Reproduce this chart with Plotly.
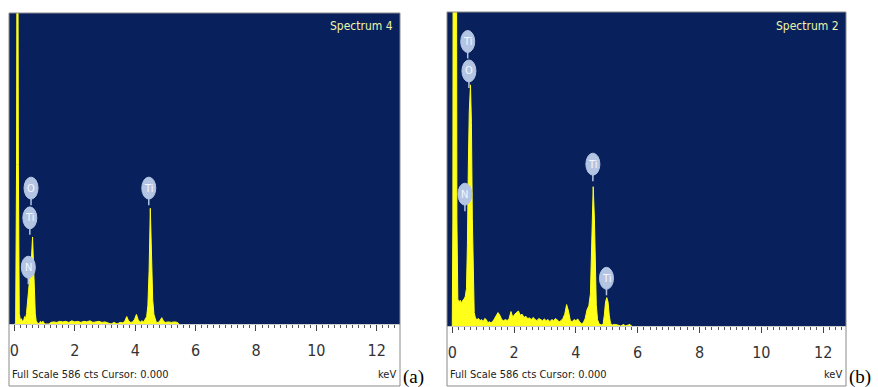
import plotly.graph_objects as go

# ---------------- data ----------------
energy_a = [0.00, 0.04, 0.07, 0.10, 0.13, 0.16, 0.20, 0.23, 0.27, 0.31, 0.34, 0.37, 0.40, 0.44,
            0.48, 0.52, 0.56, 0.60, 0.63, 0.66, 0.69, 0.72, 0.76, 0.82, 0.86, 0.90, 0.95, 1.00,
            1.15, 1.20, 1.30, 1.40, 1.50, 1.60, 1.70, 1.80, 1.90, 2.00, 2.10, 2.20, 2.30, 2.40,
            2.50, 2.60, 2.70, 2.80, 2.90, 3.00, 3.10, 3.20, 3.30, 3.40, 3.50, 3.60, 3.66, 3.72,
            3.78, 3.85, 3.92, 3.98, 4.04, 4.10, 4.16, 4.22, 4.28, 4.33, 4.38, 4.42, 4.46, 4.50,
            4.54, 4.58, 4.62, 4.66, 4.70, 4.76, 4.82, 4.88, 4.94, 5.00, 5.10, 5.20, 5.30, 5.40,
            5.45]
counts_a = [0, 0, 300, 1200, 300, 20, 6, 10, 4, 8, 14, 10, 20, 45,
            60, 80, 120, 164, 110, 50, 20, 6, 2, 0, 5, 3, 5, 0,
            0, 3, 4, 3, 5, 4, 5, 3, 6, 4, 5, 3, 5, 4,
            6, 3, 4, 5, 3, 4, 2, 0, 3, 0, 3, 2, 6, 14,
            6, 3, 4, 9, 18, 8, 3, 6, 4, 8, 14, 35, 100, 218,
            110, 45, 18, 8, 3, 3, 6, 12, 5, 3, 4, 3, 4, 3,
            0]

energy_b = [0.00, 0.02, 0.04, 0.12, 0.15, 0.18, 0.22, 0.26, 0.30, 0.34, 0.38, 0.42, 0.46, 0.49,
            0.52, 0.55, 0.59, 0.62, 0.65, 0.68, 0.71, 0.75, 0.80, 0.85, 0.90, 0.95, 1.00, 1.05,
            1.10, 1.15, 1.20, 1.25, 1.30, 1.35, 1.42, 1.48, 1.54, 1.60, 1.66, 1.72, 1.78, 1.84,
            1.90, 1.96, 2.02, 2.08, 2.14, 2.20, 2.26, 2.32, 2.38, 2.44, 2.50, 2.56, 2.62, 2.68,
            2.74, 2.80, 2.86, 2.92, 2.98, 3.04, 3.10, 3.16, 3.22, 3.28, 3.34, 3.40, 3.46, 3.52,
            3.58, 3.64, 3.70, 3.76, 3.82, 3.88, 3.94, 4.00, 4.06, 4.12, 4.18, 4.24, 4.30, 4.36,
            4.42, 4.47, 4.51, 4.56, 4.60, 4.63, 4.66, 4.70, 4.75, 4.82, 4.88, 4.92, 4.96, 5.00,
            5.04, 5.08, 5.12, 5.18, 5.25, 5.35, 5.45, 5.55, 5.60, 5.75, 5.80]
counts_b = [0, 200, 1500, 1500, 200, 50, 45, 48, 42, 48, 50, 55, 70, 150,
            300, 400, 450, 380, 200, 70, 25, 15, 12, 14, 10, 12, 8, 14,
            12, 6, 8, 6, 8, 12, 18, 25, 20, 12, 10, 12, 10, 14,
            27, 16, 22, 26, 28, 20, 22, 16, 18, 14, 15, 12, 16, 12,
            10, 14, 12, 10, 13, 10, 12, 8, 12, 10, 14, 10, 8, 10,
            14, 22, 40, 28, 10, 8, 12, 10, 13, 8, 4, 6, 14, 30,
            38, 60, 150, 260, 200, 90, 40, 12, 4, 2, 3, 20, 45, 53,
            45, 20, 5, 2, 3, 2, 0, 3, 0, 3, 0]

label_text_a = ["O", "Ti", "N", "Ti"]
label_x_a = [0.55, 0.51, 0.46, 4.45]
label_y_a = [256, 200, 107, 256]

label_text_b = ["Ti", "O", "N", "Ti", "Ti"]
label_x_b = [0.50, 0.54, 0.41, 4.55, 4.99]
label_y_b = [531, 476, 246, 302, 89]

tick_vals = [0, 2, 4, 6, 8, 10, 12]
tick_text = ["0", "2", "4", "6", "8", "10", "12"]
full_scale = 586
titles = ["Spectrum 4", "Spectrum 2"]
panel_tags = ["(a)", "(b)"]
footer = "Full Scale 586 cts Cursor: 0.000"

# ---------------- style ----------------
NAVY = "#08205c"
YELLOW = "#ffff1a"
BUBBLE = "#b3c5e3"
NARROW = "Liberation Sans Narrow, Arial Narrow, DejaVu Sans Condensed, sans-serif"
W, H = 878, 387

panels = [
    dict(x=energy_a, y=counts_a, lt=label_text_a, lx=label_x_a, ly=label_y_a,
         xdom=[9 / W, 400 / W], ydom=[1 - 324 / H, 1 - 13 / H], xr=[-0.18, 12.77]),
    dict(x=energy_b, y=counts_b, lt=label_text_b, lx=label_x_b, ly=label_y_b,
         xdom=[447 / W, 846 / W], ydom=[1 - 326 / H, 1 - 12 / H], xr=[-0.17, 12.74]),
]

fig = go.Figure()
shapes = []
annotations = []

for i, p in enumerate(panels):
    n = "" if i == 0 else str(i + 1)
    xa, ya = "x" + n, "y" + n
    fig.add_trace(go.Scatter(x=p["x"], y=p["y"], mode="lines", fill="tozeroy",
                             line=dict(color=YELLOW, width=1), fillcolor=YELLOW,
                             xaxis=xa, yaxis=ya, showlegend=False, hoverinfo="skip"))
    # frame around panel
    shapes.append(dict(type="rect", xref="paper", yref="paper",
                       x0=p["xdom"][0], x1=p["xdom"][1], y0=1 / H, y1=p["ydom"][1],
                       line=dict(color="#8a8a8a", width=1), layer="above"))
    # element labels (bubbles + stems)
    for t, lx, ly in zip(p["lt"], p["lx"], p["ly"]):
        shapes.append(dict(type="line", xref=xa, yref=ya, xsizemode="pixel", ysizemode="pixel",
                           xanchor=lx, yanchor=ly, x0=0, x1=0, y0=-10, y1=-17,
                           line=dict(color=BUBBLE, width=1.5), layer="above"))
        shapes.append(dict(type="circle", xref=xa, yref=ya, xsizemode="pixel", ysizemode="pixel",
                           xanchor=lx, yanchor=ly, x0=-7, x1=7, y0=-11, y1=11,
                           fillcolor=BUBBLE, line=dict(color=BUBBLE, width=1), layer="above"))
        annotations.append(dict(x=lx, y=ly, xref=xa, yref=ya, text=t, showarrow=False,
                                font=dict(family=NARROW, size=11, color="#f4f7ff")))
    # panel texts
    annotations.append(dict(x=p["xdom"][1] - 5 / W, y=1 - 26 / H, xref="paper", yref="paper",
                            text=titles[i], showarrow=False, xanchor="right", yanchor="middle",
                            font=dict(family=NARROW, size=12, color="#eef5a8")))
    annotations.append(dict(x=p["xdom"][0] + 1 / W, y=1 - 374 / H, xref="paper", yref="paper",
                            text=footer, showarrow=False, xanchor="left", yanchor="middle",
                            font=dict(family=NARROW, size=11, color="#222222")))
    annotations.append(dict(x=p["xdom"][1] - 2 / W, y=1 - 374 / H, xref="paper", yref="paper",
                            text="keV", showarrow=False, xanchor="right", yanchor="middle",
                            font=dict(family=NARROW, size=11, color="#222222")))
    annotations.append(dict(x=p["xdom"][1] + 1 / W, y=1 - 377 / H, xref="paper", yref="paper",
                            text=panel_tags[i], showarrow=False, xanchor="left", yanchor="middle",
                            font=dict(family="Liberation Serif, Times New Roman, serif", size=19,
                                      color="#000000")))

    xaxis = dict(domain=p["xdom"], range=p["xr"], anchor=ya, tickmode="array",
                 tickvals=tick_vals, ticktext=tick_text, ticks="outside", ticklen=6,
                 tickcolor="#444444", tickwidth=1, showgrid=False, zeroline=False,
                 showline=True, linecolor="#cccccc", linewidth=1, ticklabelstandoff=6,
                 tickfont=dict(family=NARROW, size=16, color="#333333"),
                 minor=dict(dtick=0.2, tick0=0, ticks="outside", ticklen=3,
                            tickcolor="#555555", showgrid=False),
                 fixedrange=True)
    yaxis = dict(domain=p["ydom"], range=[0, full_scale], anchor=xa, visible=False,
                 showgrid=False, zeroline=False, fixedrange=True)
    fig.layout["xaxis" + n] = xaxis
    fig.layout["yaxis" + n] = yaxis
    shapes.insert(0, dict(type="rect", xref="paper", yref="paper",
                          x0=p["xdom"][0], x1=p["xdom"][1], y0=p["ydom"][0], y1=p["ydom"][1],
                          fillcolor=NAVY, line=dict(width=0), layer="below"))

fig.update_layout(width=W, height=H, margin=dict(l=0, r=0, t=0, b=0),
                  paper_bgcolor="white", plot_bgcolor=NAVY,
                  shapes=shapes, annotations=annotations, showlegend=False)

fig.write_html("out.html", config={"displayModeBar": False},
               post_script="document.body.style.margin='0';document.body.style.overflow='hidden';")
